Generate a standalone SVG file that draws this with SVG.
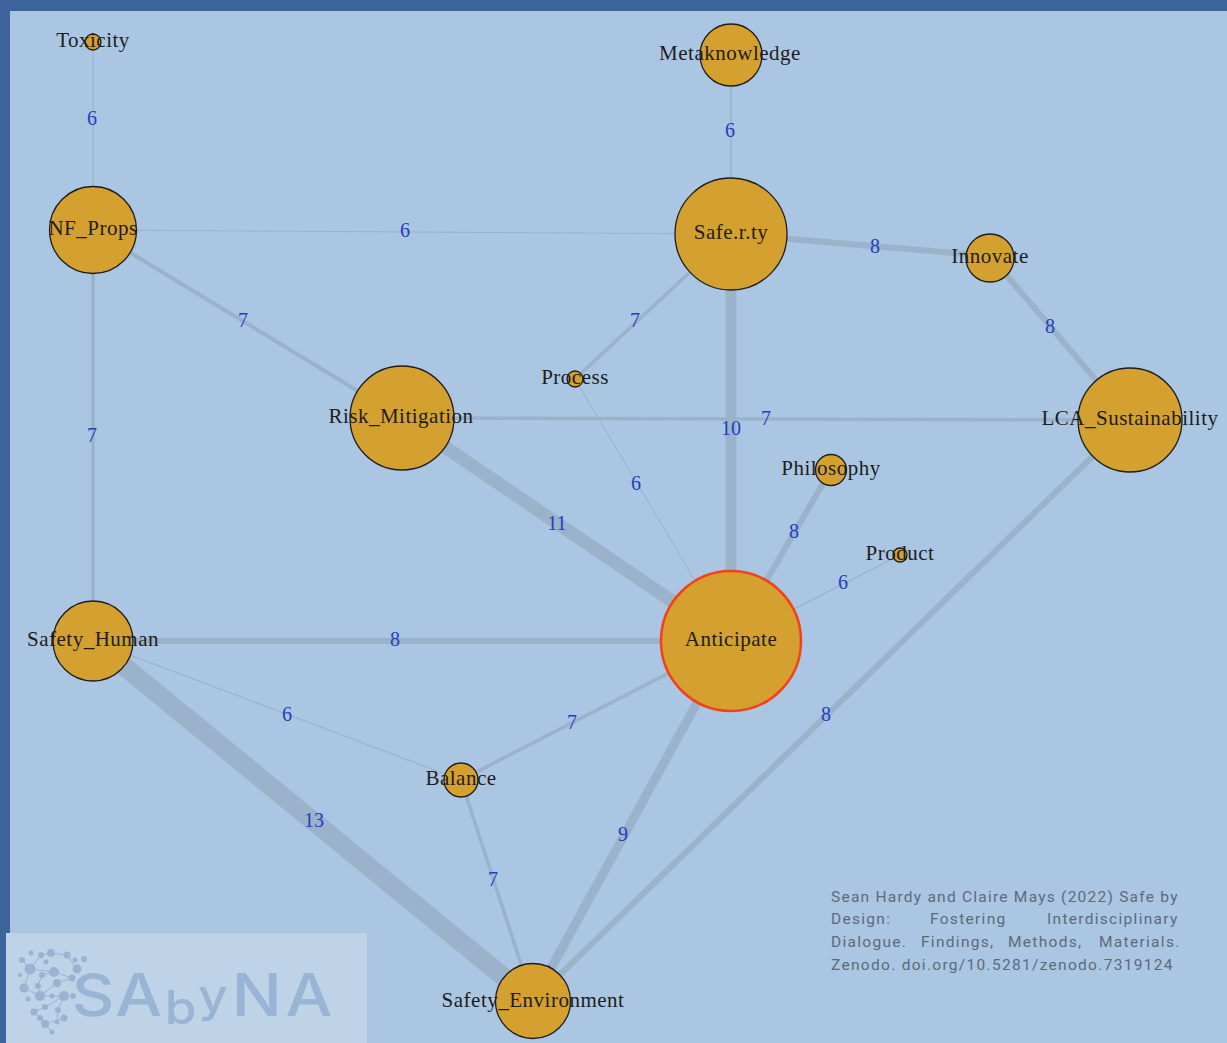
<svg xmlns="http://www.w3.org/2000/svg" width="1227" height="1043" viewBox="0 0 1227 1043">
<style>
.e{stroke:#9ab2ca;fill:none}
.n{fill:#d4a02f;stroke:#1c1c1c;stroke-width:1.3}
.l{font-family:"Liberation Serif",serif;font-size:21px;letter-spacing:.5px;fill:#1d1d1d;text-anchor:middle;dominant-baseline:central}
.w{font-family:"Liberation Serif",serif;font-size:20px;fill:#1f3fc0;text-anchor:middle;dominant-baseline:central}
.c{font-family:Roboto,"Liberation Sans",sans-serif;font-size:15.5px;fill:#5c6b7b;letter-spacing:1.3px}
.d{fill:#9ab3d3}
.k{stroke:#9ab3d3;stroke-width:1;fill:none}
.g{font-family:Inter,"Liberation Sans",sans-serif;font-size:59px;fill:#99b4d4;font-weight:500}
</style>
<rect width="1227" height="1043" fill="#abc6e2"/>
<rect width="1227" height="11" fill="#3e659b"/>
<rect width="10" height="1043" fill="#3e659b"/>
<g id="connectors">
<line class="e" x1="93" y1="42" x2="93" y2="230" stroke-width="1"/>
<line class="e" x1="731" y1="55" x2="731" y2="234" stroke-width="1.5"/>
<line class="e" x1="93" y1="230" x2="731" y2="234" stroke-width="1"/>
<line class="e" x1="731" y1="234" x2="990" y2="256" stroke-width="6"/>
<line class="e" x1="990" y1="256" x2="1130" y2="420" stroke-width="6"/>
<line class="e" x1="93" y1="230" x2="402" y2="418" stroke-width="4"/>
<line class="e" x1="93" y1="230" x2="93" y2="641" stroke-width="3.5"/>
<line class="e" x1="731" y1="234" x2="575" y2="379" stroke-width="3.5"/>
<line class="e" x1="731" y1="234" x2="731" y2="641" stroke-width="11"/>
<line class="e" x1="402" y1="418" x2="1130" y2="420" stroke-width="3.5"/>
<line class="e" x1="402" y1="418" x2="731" y2="641" stroke-width="13"/>
<line class="e" x1="575" y1="379" x2="731" y2="641" stroke-width="1"/>
<line class="e" x1="831" y1="470" x2="731" y2="641" stroke-width="6"/>
<line class="e" x1="900" y1="555" x2="731" y2="641" stroke-width="1.2"/>
<line class="e" x1="93" y1="641" x2="731" y2="641" stroke-width="6"/>
<line class="e" x1="93" y1="641" x2="461" y2="780" stroke-width="1.2"/>
<line class="e" x1="93" y1="641" x2="533" y2="1001" stroke-width="19"/>
<line class="e" x1="461" y1="780" x2="731" y2="641" stroke-width="3.5"/>
<line class="e" x1="461" y1="780" x2="533" y2="1001" stroke-width="3.5"/>
<line class="e" x1="731" y1="641" x2="533" y2="1001" stroke-width="9"/>
<line class="e" x1="1130" y1="420" x2="533" y2="1001" stroke-width="6"/>
</g>
<g id="edge-labels">
<text class="w" x="92" y="118">6</text>
<text class="w" x="730" y="130">6</text>
<text class="w" x="405" y="230">6</text>
<text class="w" x="875" y="246">8</text>
<text class="w" x="1050" y="326">8</text>
<text class="w" x="243" y="320">7</text>
<text class="w" x="635" y="320">7</text>
<text class="w" x="92" y="435">7</text>
<text class="w" x="731" y="428">10</text>
<text class="w" x="766" y="418">7</text>
<text class="w" x="636" y="483">6</text>
<text class="w" x="557" y="523">11</text>
<text class="w" x="794" y="531">8</text>
<text class="w" x="843" y="582">6</text>
<text class="w" x="395" y="639">8</text>
<text class="w" x="287" y="714">6</text>
<text class="w" x="572" y="722">7</text>
<text class="w" x="826" y="714">8</text>
<text class="w" x="314" y="820">13</text>
<text class="w" x="623" y="834">9</text>
<text class="w" x="493" y="879">7</text>
</g>
<g id="node-toxicity"><circle class="n" cx="93" cy="42" r="8"/><text class="l" x="93" y="40">Toxicity</text></g>
<g id="node-metaknowledge"><circle class="n" cx="731" cy="55" r="31"/><text class="l" x="730" y="53">Metaknowledge</text></g>
<g id="node-nf-props"><circle class="n" cx="93" cy="230" r="43.500"/><text class="l" x="93" y="228">NF_Props</text></g>
<g id="node-safe-r-ty"><circle class="n" cx="731" cy="234" r="56"/><text class="l" x="731" y="232">Safe.r.ty</text></g>
<g id="node-innovate"><circle class="n" cx="990" cy="258" r="24"/><text class="l" x="990" y="256">Innovate</text></g>
<g id="node-process"><circle class="n" cx="575" cy="379" r="8"/><text class="l" x="575" y="377">Process</text></g>
<g id="node-risk-mitigation"><circle class="n" cx="402" cy="418" r="52"/><text class="l" x="401" y="416">Risk_Mitigation</text></g>
<g id="node-lca-sustainability"><circle class="n" cx="1130" cy="420" r="52"/><text class="l" x="1130" y="418">LCA_Sustainability</text></g>
<g id="node-philosophy"><circle class="n" cx="831" cy="470" r="15.500"/><text class="l" x="831" y="468">Philosophy</text></g>
<g id="node-product"><circle class="n" cx="900" cy="555" r="7"/><text class="l" x="900" y="553">Product</text></g>
<g id="node-anticipate"><circle cx="731" cy="641" r="70" fill="#d4a02f" stroke="#f5401a" stroke-width="2.500"/><text class="l" x="731" y="639">Anticipate</text></g>
<g id="node-safety-human"><circle class="n" cx="93" cy="641" r="40"/><text class="l" x="93" y="639">Safety_Human</text></g>
<g id="node-balance"><circle class="n" cx="461" cy="780" r="17"/><text class="l" x="461" y="778">Balance</text></g>
<g id="node-safety-environment"><circle class="n" cx="533" cy="1001" r="37.500"/><text class="l" x="533" y="1000">Safety_Environment</text></g>
<g id="citation">
<text class="c" x="831" y="902" style="letter-spacing:1.24px">Sean Hardy and Claire Mays (2022) Safe by</text>
<text class="c" y="924"><tspan x="831">Design:</tspan><tspan x="930">Fostering</tspan><tspan x="1047">Interdisciplinary</tspan></text>
<text class="c" y="947"><tspan x="831">Dialogue.</tspan><tspan x="921">Findings,</tspan><tspan x="1008">Methods,</tspan><tspan x="1099">Materials.</tspan></text>
<text class="c" x="831" y="970">Zenodo. doi.org/10.5281/zenodo.7319124</text>
</g>
<g id="watermark">
<rect x="6" y="933" width="361" height="110" fill="#bed3e8"/>
<path class="k" d="M30 969L41 955L51 953L67 955L77 969M22 960L30 969L54 972L72 978L57 983L40 996L24 988L30 969M54 972L42 975L38 986L40 996L52 996L64 996L45 1007L34 1012L45 1024L52 1032M64 996L58 1010L57 1022M64 1018L45 1024"/>
<g class="d">
<circle cx="30" cy="969" r="5.500"/><circle cx="41" cy="955" r="3"/><circle cx="51" cy="953" r="4"/><circle cx="67" cy="955" r="3.500"/><circle cx="75" cy="960" r="2.500"/><circle cx="84" cy="959" r="3"/>
<circle cx="22" cy="960" r="3"/><circle cx="31" cy="953" r="2.500"/><circle cx="46" cy="962" r="2.500"/><circle cx="54" cy="972" r="5"/><circle cx="77" cy="969" r="4.500"/><circle cx="42" cy="975" r="3"/>
<circle cx="24" cy="988" r="4.500"/><circle cx="38" cy="986" r="3"/><circle cx="57" cy="983" r="4"/><circle cx="72" cy="978" r="3.500"/><circle cx="20" cy="975" r="2"/><circle cx="40" cy="996" r="5"/>
<circle cx="28" cy="999" r="2.500"/><circle cx="52" cy="996" r="2.500"/><circle cx="64" cy="996" r="5"/><circle cx="34" cy="1012" r="3.500"/><circle cx="45" cy="1007" r="3"/><circle cx="58" cy="1010" r="3"/>
<circle cx="40" cy="1018" r="3"/><circle cx="45" cy="1024" r="4"/><circle cx="57" cy="1022" r="2.500"/><circle cx="64" cy="1018" r="3.500"/><circle cx="52" cy="1032" r="2.500"/><circle cx="73" cy="996" r="3"/><circle cx="80" cy="983" r="3"/>
</g>
<text class="g" y="1016" transform="scale(1.12 1)"><tspan x="64">S</tspan><tspan x="103">A</tspan><tspan x="147" dy="8" style="font-size:46px">b</tspan><tspan x="177" dy="-12" style="font-size:46px">y</tspan><tspan x="207" dy="4">N</tspan><tspan x="255">A</tspan></text>
</g>
</svg>
